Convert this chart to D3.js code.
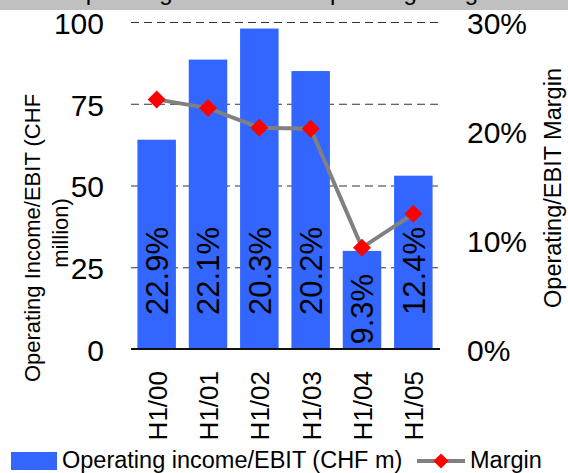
<!DOCTYPE html>
<html>
<head>
<meta charset="utf-8">
<script src="https://cdn.jsdelivr.net/npm/d3@7"></script>
<style>
  body { margin: 0; background: #fff; }
  #chart { width: 568px; height: 473px; }
  text { font-family: "Liberation Sans", Arial, sans-serif; fill: #000; }
</style>
</head>
<body>
<div id="chart"></div>
<script>
// data
const periods = ["H1/00", "H1/01", "H1/02", "H1/03", "H1/04", "H1/05"];
const income = [64, 88.5, 98, 85, 30, 53];          // CHF m
const margin = [22.9, 22.1, 20.3, 20.2, 9.3, 12.4];  // %
const incomeTicks = [0, 25, 50, 75, 100];
const marginTicks = [0, 10, 20, 30];

/*
  CANVAS
*/
const width = 568, height = 473;
const margin_ = {top: 22, left: 131, right: 129, bottom: 124};

const canvas = d3.select("#chart")
  .append("svg")
  .attr("width", width)
  .attr("height", height);

canvas.append("rect").attr("width", width).attr("height", height).attr("fill", "#fff");

// grey band at the top, the chart title sits mostly above the picture
canvas.append("rect").attr("x", 0).attr("y", 0).attr("width", width).attr("height", 10)
  .attr("fill", "#c0c0c0");
canvas.append("text")
  .attr("x", 282).attr("y", 0)
  .attr("text-anchor", "middle")
  .style("font-size", "24px")
  .text("Operating Income and Operating Margin");

/*
  SCALES
*/
const x0 = margin_.left, x1 = width - margin_.right;
const y0 = height - margin_.bottom, y1 = margin_.top;

const xScale = d3.scaleBand().domain(periods).range([x0, x1]).paddingInner(0.25).paddingOuter(0.125);
const yScale = d3.scaleLinear().domain([0, 100]).range([y0, y1]);
const y2Scale = d3.scaleLinear().domain([0, 30]).range([y0, y1]);

/*
  AXES + GRID
*/
const yAxis = canvas.append("g")
  .attr("transform", `translate(${x0},0)`)
  .call(d3.axisLeft(yScale).tickValues(incomeTicks).tickSize(-(x1 - x0)).tickPadding(27));
yAxis.select(".domain").remove();
yAxis.selectAll(".tick line")
  .attr("stroke", "#333")
  .attr("stroke-dasharray", "8,5")
  .attr("stroke-width", 1)
  .attr("display", d => d === 0 ? "none" : null);
yAxis.selectAll(".tick text").style("font-size", "30px").attr("dy", "0.38em").attr("font-family", null);

const y2Axis = canvas.append("g")
  .attr("transform", `translate(${x1},0)`)
  .call(d3.axisRight(y2Scale).tickValues(marginTicks).tickSize(0).tickPadding(28).tickFormat(d => d + "%"));
y2Axis.select(".domain").remove();
y2Axis.selectAll(".tick text").style("font-size", "30px").attr("dy", "0.38em").attr("font-family", null);

/*
  BARS
*/
canvas.selectAll("rect.bar")
  .data(periods)
  .enter()
  .append("rect")
  .attr("class", "bar")
  .attr("x", d => xScale(d))
  .attr("width", xScale.bandwidth())
  .attr("y", (d, i) => yScale(income[i]))
  .attr("height", (d, i) => y0 - yScale(income[i]))
  .attr("fill", "#3366FF");

// zero line
canvas.append("line")
  .attr("x1", x0).attr("x2", x1 + 1)
  .attr("y1", y0).attr("y2", y0)
  .attr("stroke", "#111").attr("stroke-width", 2);

// margin labels inside bars
const labels = canvas.selectAll("text.barLabel")
  .data(periods)
  .enter()
  .append("text")
  .attr("class", "barLabel")
  .attr("text-anchor", "middle")
  .attr("dy", "0.36em")
  .style("font-size", "31px")
  .text((d, i) => margin[i].toFixed(1) + "%");
labels.attr("transform", function(d, i) {
  const half = this.getComputedTextLength() / 2;
  const cy = Math.max(y0 - 78, yScale(income[i]) + 23 + half);
  return `translate(${xScale(d) + xScale.bandwidth() / 2},${cy}) rotate(-90)`;
});

/*
  MARGIN LINE
*/
const line = d3.line()
  .x((d, i) => xScale(periods[i]) + xScale.bandwidth() / 2)
  .y(d => y2Scale(d));

canvas.append("path")
  .datum(margin)
  .attr("d", line)
  .attr("fill", "none")
  .attr("stroke", "#808080")
  .attr("stroke-width", 4);

const diamond = d3.symbol().type(d3.symbolSquare).size(162);
canvas.selectAll("path.marker")
  .data(margin)
  .enter()
  .append("path")
  .attr("class", "marker")
  .attr("d", diamond)
  .attr("transform", (d, i) => `translate(${xScale(periods[i]) + xScale.bandwidth() / 2},${y2Scale(d)}) rotate(45)`)
  .attr("fill", "#ff0000");

/*
  X LABELS
*/
canvas.selectAll("text.xLabel")
  .data(periods)
  .enter()
  .append("text")
  .attr("class", "xLabel")
  .attr("text-anchor", "end")
  .attr("transform", d => `translate(${xScale(d) + xScale.bandwidth() / 2 + 10},${y0 + 22}) rotate(-90)`)
  .style("font-size", "26px")
  .text(d => d);

/*
  AXIS TITLES
*/
const leftTitle = canvas.append("text")
  .attr("text-anchor", "middle")
  .attr("transform", "translate(40,238) rotate(-90)")
  .style("font-size", "22px");
leftTitle.append("tspan").attr("x", 0).attr("y", 0).text("Operating Income/EBIT (CHF");
leftTitle.append("tspan").attr("x", 5).attr("y", 28).text("million)");

canvas.append("text")
  .attr("text-anchor", "middle")
  .attr("transform", "translate(561,188) rotate(-90)")
  .style("font-size", "23.5px")
  .text("Operating/EBIT Margin");

/*
  LEGEND
*/
const legend = canvas.append("g").attr("transform", "translate(0,461)");
legend.append("rect").attr("x", 11).attr("y", -9).attr("width", 46).attr("height", 18).attr("fill", "#3366FF");
legend.append("text").attr("x", 62).attr("y", 7).style("font-size", "23.5px").text("Operating income/EBIT (CHF m)");
legend.append("line").attr("x1", 417).attr("x2", 465).attr("y1", 0).attr("y2", 0)
  .attr("stroke", "#808080").attr("stroke-width", 4);
legend.append("path").attr("d", d3.symbol().type(d3.symbolSquare).size(115))
  .attr("transform", "translate(441,0) rotate(45)").attr("fill", "#ff0000");
legend.append("text").attr("x", 470).attr("y", 7).style("font-size", "23.5px").text("Margin");
</script>
</body>
</html>
